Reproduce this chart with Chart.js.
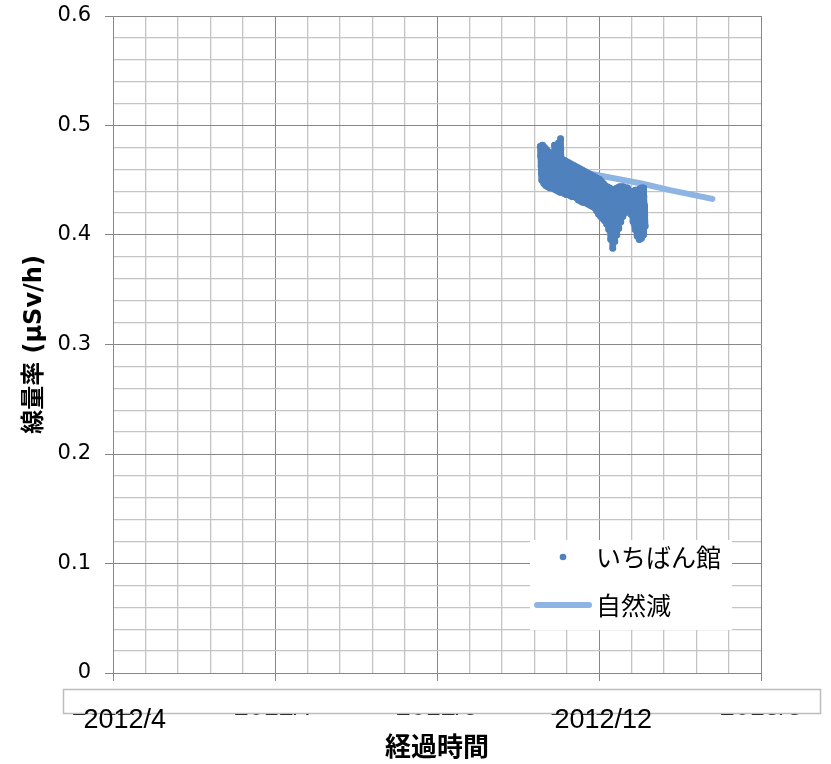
<!DOCTYPE html>
<html lang="ja">
<head>
<meta charset="utf-8">
<script src="https://cdn.jsdelivr.net/npm/chart.js@4.4.1/dist/chart.umd.min.js"></script>
<style>
  html, body { margin: 0; padding: 0; background: #fff; }
  #wrap { width: 831px; height: 764px; }
</style>
</head>
<body>
<div id="wrap"><canvas id="dose" width="831" height="764"></canvas></div>
<script>
// x axis is counted in days from axisStart
const axisStart = '2012-04-15'
const axisDays = 320
const minorDays = 16
const shownTickDays = [0, 240]

const stationName = 'いちばん館'
const decayName = '自然減'

const sampleDays = [
  '2012-11-12', '2012-11-13', '2012-11-14', '2012-11-15', '2012-11-16', '2012-11-17',
  '2012-11-18', '2012-11-19', '2012-11-20', '2012-11-21', '2012-11-22', '2012-11-23',
  '2012-11-24', '2012-11-25', '2012-11-26', '2012-11-27', '2012-11-28', '2012-11-29',
  '2012-11-30', '2012-12-01', '2012-12-02', '2012-12-03', '2012-12-04', '2012-12-05',
  '2012-12-06', '2012-12-07', '2012-12-08', '2012-12-09', '2012-12-10', '2012-12-11',
  '2012-12-12', '2012-12-13', '2012-12-14', '2012-12-15', '2012-12-16', '2012-12-17',
  '2012-12-18', '2012-12-19', '2012-12-20', '2012-12-21', '2012-12-22', '2012-12-23',
  '2012-12-24', '2012-12-25', '2012-12-26', '2012-12-27', '2012-12-28', '2012-12-29',
  '2012-12-30', '2012-12-31', '2013-01-01', '2013-01-02'
]

// readings through each day, µSv/h
const doseReadings = [
  [0.481, 0.472, 0.463, 0.456, 0.450],
  [0.482, 0.474, 0.466, 0.458, 0.447],
  [0.480, 0.470, 0.461, 0.452, 0.445],
  [0.478, 0.469, 0.460, 0.451, 0.444],
  [0.476, 0.467, 0.458, 0.450, 0.443],
  [0.474, 0.465, 0.457, 0.449, 0.443],
  [0.472, 0.464, 0.455, 0.448, 0.442],
  [0.482, 0.470, 0.461, 0.452, 0.441],
  [0.480, 0.469, 0.459, 0.450, 0.440],
  [0.484, 0.468, 0.458, 0.448, 0.439],
  [0.488, 0.478, 0.467, 0.455, 0.446, 0.439],
  [0.469, 0.461, 0.453, 0.445, 0.438],
  [0.468, 0.460, 0.452, 0.444, 0.437],
  [0.467, 0.459, 0.451, 0.443, 0.437],
  [0.466, 0.458, 0.450, 0.442, 0.436],
  [0.465, 0.457, 0.449, 0.441, 0.435],
  [0.464, 0.456, 0.448, 0.441, 0.435],
  [0.463, 0.455, 0.447, 0.440, 0.434],
  [0.462, 0.454, 0.446, 0.439, 0.432],
  [0.461, 0.453, 0.445, 0.437, 0.431],
  [0.460, 0.452, 0.444, 0.436, 0.430],
  [0.459, 0.451, 0.443, 0.436, 0.430],
  [0.458, 0.450, 0.442, 0.435, 0.429],
  [0.457, 0.449, 0.441, 0.434, 0.428],
  [0.456, 0.448, 0.440, 0.433, 0.427],
  [0.455, 0.447, 0.439, 0.432, 0.426],
  [0.454, 0.446, 0.438, 0.431, 0.425],
  [0.453, 0.445, 0.437, 0.429, 0.422],
  [0.452, 0.444, 0.435, 0.427, 0.419],
  [0.451, 0.443, 0.434, 0.425, 0.417],
  [0.449, 0.441, 0.432, 0.423, 0.415],
  [0.447, 0.439, 0.430, 0.421, 0.413],
  [0.445, 0.437, 0.428, 0.419, 0.410],
  [0.444, 0.435, 0.425, 0.415, 0.405],
  [0.443, 0.434, 0.424, 0.414, 0.405, 0.396],
  [0.442, 0.432, 0.421, 0.410, 0.399, 0.388],
  [0.441, 0.431, 0.421, 0.411, 0.402, 0.394],
  [0.442, 0.433, 0.424, 0.414, 0.406, 0.400],
  [0.443, 0.434, 0.425, 0.415, 0.406],
  [0.444, 0.436, 0.428, 0.420, 0.412],
  [0.444, 0.437, 0.430, 0.423, 0.417],
  [0.444, 0.438, 0.432, 0.426, 0.420],
  [0.443, 0.438, 0.433, 0.428, 0.423],
  [0.443, 0.438, 0.433, 0.428, 0.424],
  [0.440, 0.434, 0.428, 0.423, 0.419],
  [0.438, 0.431, 0.424, 0.418, 0.412],
  [0.440, 0.432, 0.424, 0.416, 0.409, 0.405],
  [0.441, 0.433, 0.424, 0.416, 0.408, 0.399],
  [0.441, 0.432, 0.423, 0.414, 0.405, 0.396],
  [0.442, 0.433, 0.424, 0.415, 0.406, 0.397],
  [0.443, 0.435, 0.426, 0.417, 0.408, 0.400],
  [0.443, 0.435, 0.427, 0.418, 0.408]
]

// natural decay curve
const decayDates = ['2012-11-14', '2012-12-01', '2012-12-15', '2013-01-01', '2013-01-15', '2013-02-05']
const decayValues = [0.465, 0.458, 0.453, 0.447, 0.441, 0.433]

const DAY = 86400000
const t0 = Date.parse(axisStart + 'T00:00:00Z')

function dayOf(s) {
  return (Date.parse(s + 'T00:00:00Z') - t0) / DAY
}

function monthLabel(day) {
  const d = new Date(t0 + day * DAY)
  return d.getUTCFullYear() + '/' + (d.getUTCMonth() + 1)
}

const stationPoints = []
sampleDays.forEach((s, i) => {
  const row = doseReadings[i]
  row.forEach((v, k) => stationPoints.push({ x: dayOf(s) + k / row.length, y: v }))
})

const decayPoints = decayDates.map((s, i) => ({ x: dayOf(s), y: decayValues[i] }))

const MAJOR = '#878787'
const MINOR = '#c4c4c4'
const DOT = '#4F81BD'
const isMajor = c => c.index % 5 === 0

// white strip over the date labels, with the two dates written on it
const axisCover = {
  id: 'axisCover',
  afterDraw(chart) {
    const { ctx } = chart
    const xs = chart.scales.x
    ctx.save()
    ctx.fillStyle = '#fff'
    ctx.fillRect(63, 689, 757, 24)
    ctx.strokeStyle = '#bdbdbd'
    ctx.lineWidth = 1.5
    ctx.strokeRect(63.5, 689.5, 757, 24)
    ctx.fillStyle = '#000'
    ctx.font = '27px "Liberation Sans"'
    ctx.textAlign = 'right'
    ctx.textBaseline = 'alphabetic'
    shownTickDays.forEach(d => {
      ctx.fillText(monthLabel(d), xs.getPixelForValue(d) + 53, 728)
    })
    ctx.restore()
  }
}

// legend box inside the plot, lower right
const boxLegend = {
  id: 'boxLegend',
  afterDraw(chart) {
    const { ctx } = chart
    const [dots, curve] = chart.data.datasets
    ctx.save()
    ctx.fillStyle = '#fff'
    ctx.fillRect(530, 540, 202, 90)

    ctx.fillStyle = dots.backgroundColor
    ctx.beginPath()
    ctx.arc(563, 557, 3.3, 0, Math.PI * 2)
    ctx.fill()

    ctx.strokeStyle = curve.borderColor
    ctx.lineWidth = 6
    ctx.lineCap = 'round'
    ctx.beginPath()
    ctx.moveTo(537, 605)
    ctx.lineTo(589, 605)
    ctx.stroke()

    ctx.fillStyle = '#000'
    ctx.font = '25px "Noto Sans CJK JP"'
    ctx.textBaseline = 'middle'
    ctx.fillText(dots.label, 596, 557)
    ctx.fillText(curve.label, 596, 605)
    ctx.restore()
  }
}

new Chart(document.getElementById('dose'), {
  type: 'scatter',
  data: {
    datasets: [
      {
        // readings follow each other so closely that the markers merge
        label: stationName,
        data: stationPoints,
        showLine: true,
        borderColor: DOT,
        borderWidth: 6.5,
        borderJoinStyle: 'round',
        borderCapStyle: 'round',
        backgroundColor: DOT,
        pointBorderWidth: 0,
        pointRadius: 3.4,
        pointHoverRadius: 3.4,
        tension: 0,
        order: 1
      },
      {
        label: decayName,
        data: decayPoints,
        showLine: true,
        borderColor: '#8EB4E3',
        borderWidth: 6,
        borderCapStyle: 'round',
        pointRadius: 0,
        tension: 0,
        order: 2
      }
    ]
  },
  options: {
    responsive: false,
    animation: false,
    devicePixelRatio: 1,
    layout: { padding: { left: 0, top: 16, right: 70, bottom: 0 } },
    plugins: {
      legend: { display: false },
      tooltip: { enabled: false }
    },
    scales: {
      x: {
        type: 'linear',
        min: 0,
        max: axisDays,
        afterFit: s => { s.height = 91 },
        ticks: {
          stepSize: minorDays,
          autoSkip: false,
          maxRotation: 0,
          padding: 10,
          color: '#000',
          font: { family: '"Liberation Sans"', size: 27 },
          callback: (v, i) => (i % 5 === 0 ? monthLabel(v) : '')
        },
        grid: {
          color: c => (isMajor(c) ? MAJOR : MINOR),
          lineWidth: c => (isMajor(c) ? 1 : 1.3),
          tickColor: c => (isMajor(c) ? MAJOR : 'rgba(0,0,0,0)'),
          tickLength: 8
        },
        border: { color: MAJOR, width: 1 },
        title: {
          display: true,
          text: '経過時間',
          color: '#000',
          font: { family: '"Noto Sans CJK JP"', size: 26, weight: 'bold', lineHeight: 1.2 },
          padding: { top: 0, bottom: 2 }
        }
      },
      y: {
        min: 0,
        max: 0.6,
        afterFit: s => {
          s.width = 113
          s.paddingTop = 0
          s.paddingBottom = 0
        },
        ticks: {
          stepSize: 0.02,
          autoSkip: false,
          padding: 14,
          color: '#000',
          font: { family: '"DejaVu Sans"', size: 21 },
          callback: (v, i) => (i % 5 === 0 ? (v === 0 ? '0' : v.toFixed(1)) : '')
        },
        grid: {
          color: c => (isMajor(c) ? MAJOR : MINOR),
          lineWidth: c => (isMajor(c) ? 1 : 1.3),
          tickColor: c => (isMajor(c) ? MAJOR : 'rgba(0,0,0,0)'),
          tickLength: 8
        },
        border: { color: MAJOR, width: 1 },
        title: {
          display: true,
          text: '線量率 (µSv/h)',
          color: '#000',
          font: { family: '"DejaVu Sans", "Noto Sans CJK JP"', size: 24, weight: 'bold', lineHeight: 1.2 },
          padding: { top: 20, bottom: 0 }
        }
      }
    }
  },
  plugins: [axisCover, boxLegend]
})
</script>
</body>
</html>
